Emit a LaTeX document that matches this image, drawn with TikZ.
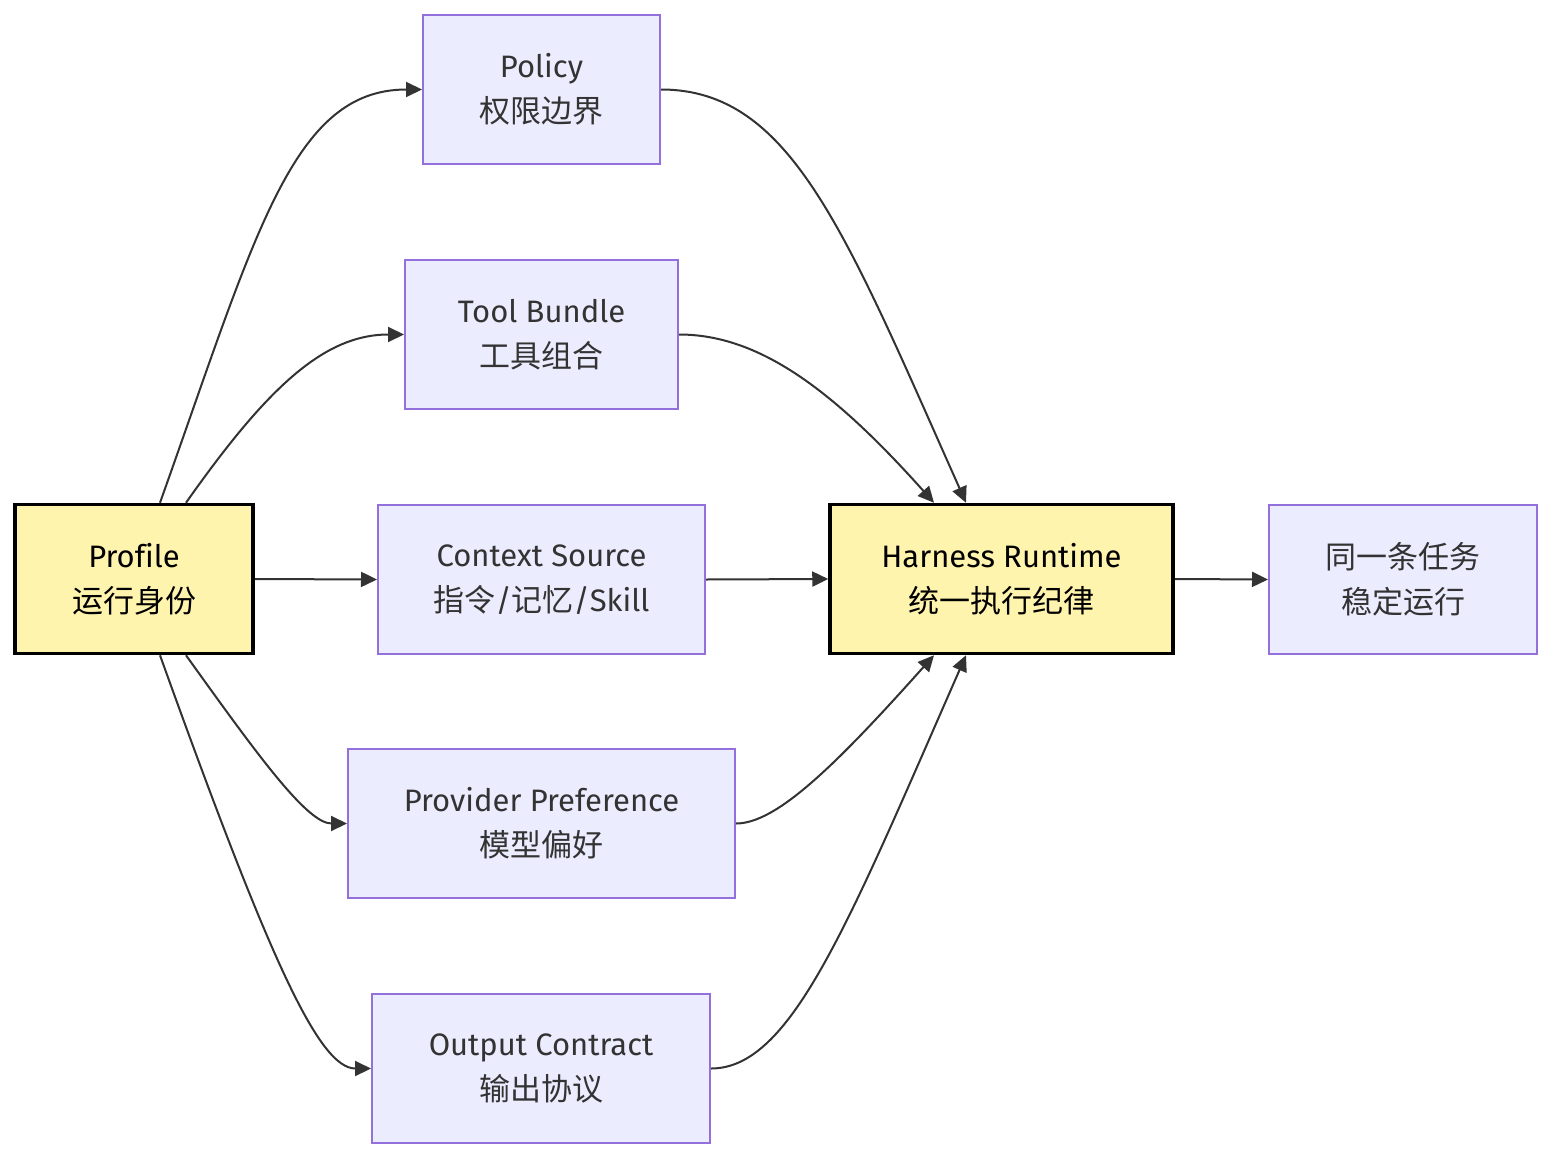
\documentclass[tikz,border=0pt]{standalone}
\usepackage{fontspec}
\setmainfont{Fira Sans}[Ligatures=NoCommon]
\newfontfamily\cjk{Noto Sans CJK SC}
\usetikzlibrary{arrows.meta}
\definecolor{pfill}{HTML}{ECECFF}
\definecolor{pline}{HTML}{9370DB}
\definecolor{yfill}{HTML}{FFF4AD}
\definecolor{edgec}{HTML}{333333}
\definecolor{txt}{HTML}{333333}
\begin{document}
\begin{tikzpicture}[x=1pt,y=-1pt,
  base/.style={rectangle,inner sep=0pt,minimum height=149pt,align=center,
    font=\fontsize{31}{45}\selectfont},
  pbox/.style={base,fill=pfill,draw=pline,line width=2pt,text=txt},
  ybox/.style={base,fill=yfill,draw=black,line width=3.5pt,text=black},
  conn/.style={draw=edgec,line width=2pt,-{Triangle[length=16pt,width=15pt]}}
]
\fill[white] (0,0) rectangle (1568,1172);
\useasboundingbox (0,0) rectangle (1568,1172);

\node[ybox,minimum width=238pt] (prof) at (134,579) {Profile\\{\cjk 运行身份}};
\node[pbox,minimum width=237pt] (pol) at (541.5,89.5) {Policy\\{\cjk 权限边界}};
\node[pbox,minimum width=273pt] (tool) at (541.5,334.5) {Tool Bundle\\{\cjk 工具组合}};
\node[pbox,minimum width=327pt] (ctx) at (541.5,579.5) {Context Source\\{\cjk 指令}/{\cjk 记忆}/Skill};
\node[pbox,minimum width=387pt] (prov) at (541.5,823.5) {Provider Preference\\{\cjk 模型偏好}};
\node[pbox,minimum width=338pt] (out) at (541,1068.5) {Output Contract\\{\cjk 输出协议}};
\node[ybox,minimum width=343pt] (har) at (1001.5,579) {Harness Runtime\\{\cjk 统一执行纪律}};
\node[pbox,minimum width=268pt] (task) at (1403,579.5) {{\cjk 同一条任务}\\{\cjk 稳定运行}};

% Profile -> middle column
\draw[conn] ([xshift=26pt]prof.north) .. controls +(96,-269) and +(-130,0) .. (pol.west);
\draw[conn] ([xshift=52pt]prof.north) .. controls +(81,-115) and +(-80,0) .. (tool.west);
\draw[conn] (prof.east) -- (ctx.west);
\draw[conn] ([xshift=52pt]prof.south) .. controls +(71,99) and +(-40,0) .. (prov.west);
\draw[conn] ([xshift=26pt]prof.south) .. controls +(110,306) and +(-52,0) .. (out.west);

% middle column -> Harness
\draw[conn] (pol.east) .. controls +(130,0) and +(-121,-271) .. ([xshift=-35.5pt]har.north);
\draw[conn] (tool.east) .. controls +(80,0) and +(-101,-113) .. ([xshift=-67.5pt]har.north);
\draw[conn] (ctx.east) -- (har.west);
\draw[conn] (prov.east) .. controls +(40,0) and +(-100,112) .. ([xshift=-67.5pt]har.south);
\draw[conn] (out.east) .. controls +(80,0) and +(-119,271) .. ([xshift=-35.5pt]har.south);

% Harness -> task
\draw[conn] (har.east) -- (task.west);
\end{tikzpicture}
\end{document}
